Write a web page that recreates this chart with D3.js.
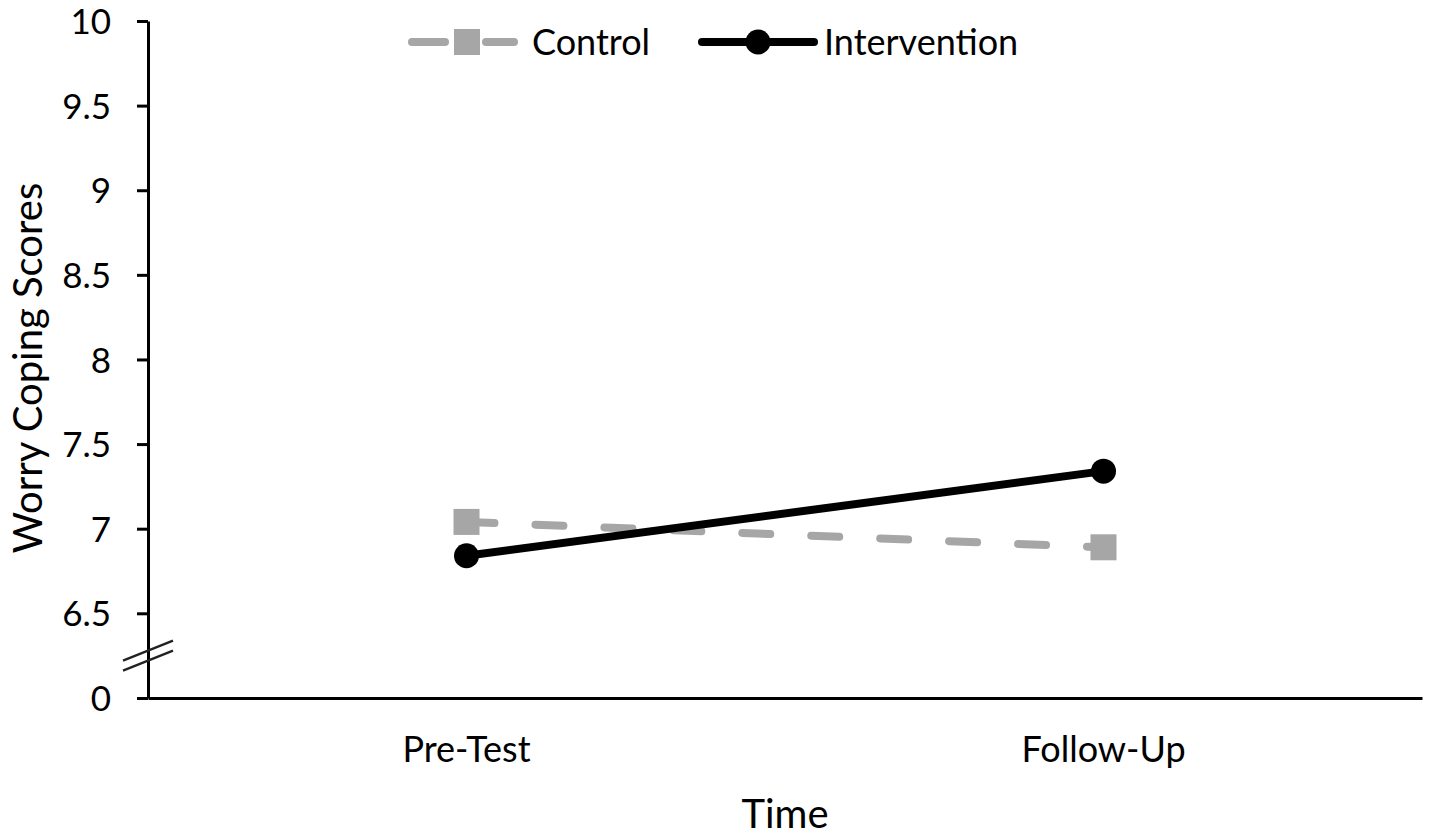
<!DOCTYPE html>
<html>
<head>
<meta charset="utf-8">
<script src="https://cdn.jsdelivr.net/npm/d3@7/dist/d3.min.js"></script>
<style>
  html, body { margin: 0; padding: 0; background: #fff; }
  svg { display: block; }
  text { font-family: Lato, "Open Sans", sans-serif; fill: #000; }
</style>
</head>
<body>
<svg id="chart" width="1430" height="838"></svg>
<script>
// ---- data ----
const categories = ["Pre-Test", "Follow-Up"];
const seriesNames = ["Control", "Intervention"];
const controlValues = [7.04, 6.89];
const interventionValues = [6.84, 7.34];
const yTickValues = [0, 6.5, 7, 7.5, 8, 8.5, 9, 9.5, 10];
const yTickLabels = ["0", "6.5", "7", "7.5", "8", "8.5", "9", "9.5", "10"];
const xTitle = "Time";
const yTitle = "Worry Coping Scores";

// ---- layout ----
const svg = d3.select("#chart");
const plotLeft = 148, plotRight = 1422, plotTop = 21, plotBottom = 698;
const fontSize = 36;
const titleSize = 40;
const grey = "#a6a6a6";

// broken axis: 0 sits one half-step below 6.5
const y = d3.scaleLinear().domain([0, 6.5, 10]).range([plotBottom, plotBottom - 84.7, plotTop]);
const x = d3.scaleBand().domain(categories).range([plotLeft, plotRight]);
const cx = d => x(d) + x.bandwidth() / 2;

// y axis
const yAxis = svg.append("g")
  .attr("transform", `translate(${plotLeft},0)`)
  .call(d3.axisLeft(y)
    .tickValues(yTickValues)
    .tickFormat((d, i) => yTickLabels[i])
    .tickSize(11)
    .tickSizeOuter(0)
    .tickPadding(26));
yAxis.select(".domain").attr("stroke", "#000").attr("stroke-width", 3);
yAxis.selectAll(".tick line").attr("stroke", "#000").attr("stroke-width", 3);
yAxis.selectAll(".tick text")
  .attr("font-size", fontSize - 1)
  .attr("font-family", "Lato, 'Open Sans', sans-serif")
  .attr("fill", "#000")
  .attr("dy", "0.36em");

// x axis
const xAxis = svg.append("g")
  .attr("transform", `translate(0,${plotBottom})`)
  .call(d3.axisBottom(x).tickSize(0).tickSizeOuter(0));
xAxis.select(".domain").attr("stroke", "#000").attr("stroke-width", 3);
xAxis.selectAll(".tick text")
  .attr("font-size", fontSize)
  .attr("font-family", "Lato, 'Open Sans', sans-serif")
  .attr("fill", "#000")
  .attr("y", 64)
  .attr("dy", 0);

// axis break marks
const breakY = (y(0) + y(6.5)) / 2;
[-5, 5].forEach(off => {
  svg.append("line")
    .attr("x1", plotLeft - 25).attr("y1", breakY + off + 10)
    .attr("x2", plotLeft + 25).attr("y2", breakY + off - 10)
    .attr("stroke", "#222").attr("stroke-width", 2.5);
});

// axis titles
svg.append("text")
  .attr("x", (plotLeft + plotRight) / 2).attr("y", 828)
  .attr("text-anchor", "middle")
  .attr("font-size", titleSize)
  .text(xTitle);
svg.append("text")
  .attr("transform", `translate(42,368) rotate(-90)`)
  .attr("text-anchor", "middle")
  .attr("font-size", titleSize)
  .text(yTitle);

// lines
const line = d3.line().x((d, i) => cx(categories[i])).y(d => y(d));
svg.append("path")
  .datum(controlValues)
  .attr("d", line)
  .attr("fill", "none")
  .attr("stroke", grey)
  .attr("stroke-width", 8)
  .attr("stroke-linecap", "round")
  .attr("stroke-dasharray", "28,41");
svg.append("path")
  .datum(interventionValues)
  .attr("d", line)
  .attr("fill", "none")
  .attr("stroke", "#000")
  .attr("stroke-width", 8);

// markers
svg.selectAll("rect.ctrl").data(controlValues).enter().append("rect")
  .attr("class", "ctrl")
  .attr("x", (d, i) => cx(categories[i]) - 13)
  .attr("y", d => y(d) - 13)
  .attr("width", 26).attr("height", 26)
  .attr("fill", grey);
svg.selectAll("circle.int").data(interventionValues).enter().append("circle")
  .attr("class", "int")
  .attr("cx", (d, i) => cx(categories[i]))
  .attr("cy", d => y(d))
  .attr("r", 12.5)
  .attr("fill", "#000");

// legend
const ly = 42;
const lg = svg.append("g");
// control
lg.append("line").attr("x1", 412).attr("x2", 445).attr("y1", ly).attr("y2", ly)
  .attr("stroke", grey).attr("stroke-width", 8).attr("stroke-linecap", "round");
lg.append("line").attr("x1", 486).attr("x2", 514).attr("y1", ly).attr("y2", ly)
  .attr("stroke", grey).attr("stroke-width", 8).attr("stroke-linecap", "round");
lg.append("rect").attr("x", 454).attr("y", ly - 13).attr("width", 26).attr("height", 26).attr("fill", grey);
lg.append("text").attr("x", 532).attr("y", ly).attr("dy", "0.36em")
  .attr("font-size", fontSize).text(seriesNames[0]);
// intervention
lg.append("line").attr("x1", 702).attr("x2", 814).attr("y1", ly).attr("y2", ly)
  .attr("stroke", "#000").attr("stroke-width", 8).attr("stroke-linecap", "round");
lg.append("circle").attr("cx", 758).attr("cy", ly).attr("r", 12.5).attr("fill", "#000");
lg.append("text").attr("x", 824).attr("y", ly).attr("dy", "0.36em")
  .attr("font-size", fontSize).text(seriesNames[1]);
</script>
</body>
</html>
